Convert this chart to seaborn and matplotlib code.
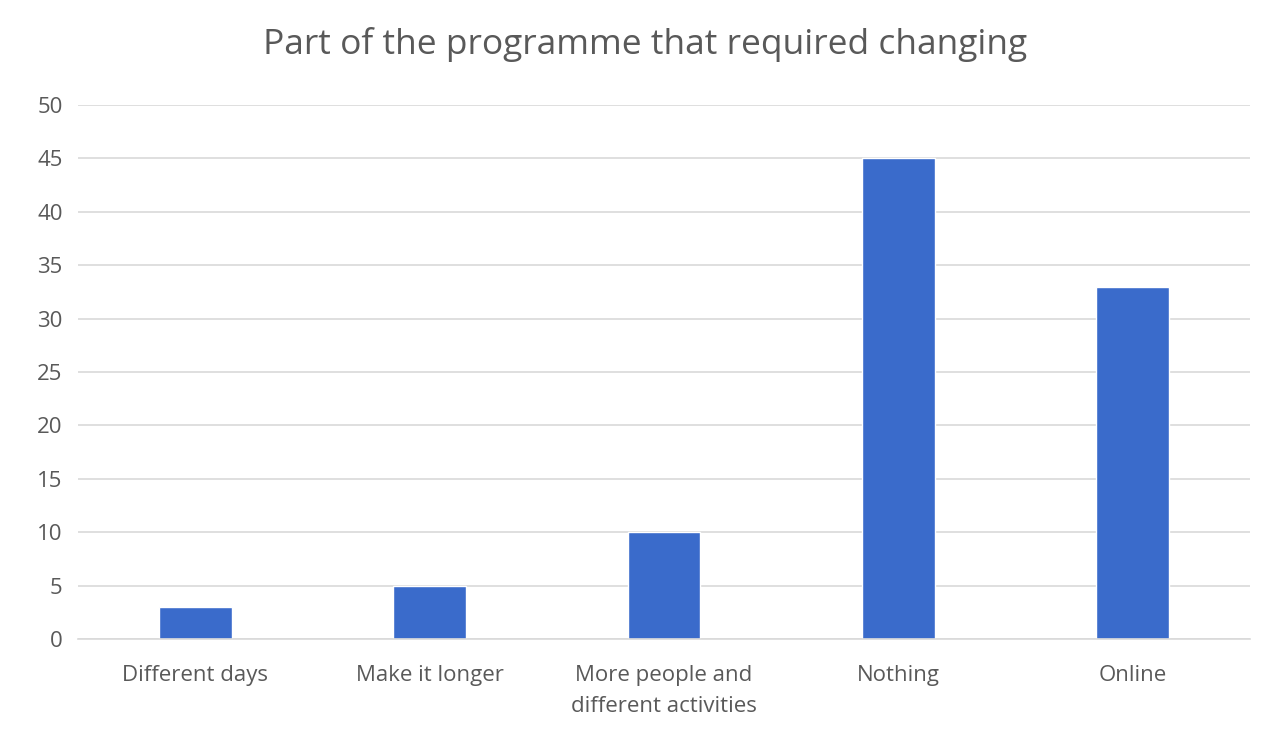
import matplotlib
matplotlib.use("Agg")
import matplotlib.pyplot as plt
import seaborn as sns
import pandas as pd

categories = ["Different days", "Make it longer", "More people and\ndifferent activities", "Nothing", "Online"]
values = [3, 5, 10, 45, 33]
title = "Part of the programme that required changing"

sns.set_theme(style="white")
plt.rcParams['font.family'] = ['Open Sans', 'DejaVu Sans']

df = pd.DataFrame({"cat": categories, "val": values})
fig = plt.figure(figsize=(12.73, 7.29), dpi=100)
ax = fig.add_axes([78/1273, 1-639/729, (1250-78)/1273, (639-105)/729])
sns.barplot(data=df, x="cat", y="val", color="#3A6BCB", width=0.31, ax=ax, saturation=1)
ax.set_ylim(0, 50)
ax.set_xlim(-0.5, 4.5)
ax.set_yticks(range(0, 51, 5))
ax.yaxis.grid(True, color="#D9D9D9", linewidth=1.2)
ax.set_axisbelow(True)
for s in ["top", "right", "left"]:
    ax.spines[s].set_visible(False)
ax.spines["bottom"].set_color("#D9D9D9")
ax.spines["bottom"].set_linewidth(1.2)
ax.tick_params(axis="both", length=0, labelsize=16, colors="#595959")
ax.tick_params(axis="x", pad=19)
ax.tick_params(axis="y", pad=11)
for lbl in ax.get_xticklabels():
    lbl.set_linespacing(1.6)
ax.set_xlabel("")
ax.set_ylabel("")
fig.text(0.507, 1-45/729, title, ha="center", va="center", fontsize=25.5, color="#595959")
fig.savefig("out.png", dpi=100, facecolor="white")
